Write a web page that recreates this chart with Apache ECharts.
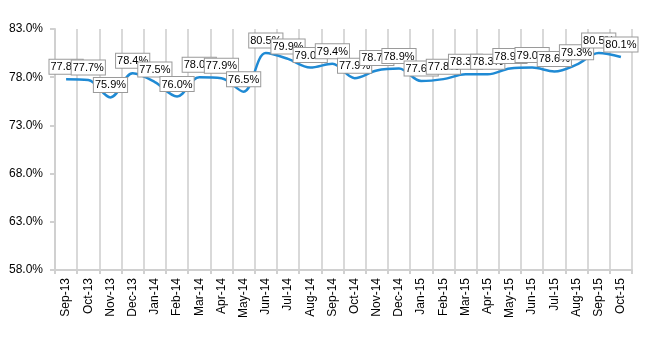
<!DOCTYPE html>
<html><head><meta charset="utf-8">
<script src="https://cdn.jsdelivr.net/npm/echarts@6/dist/echarts.min.js"></script>
<style>html,body{margin:0;padding:0;background:#fff}#c{width:650px;height:350px}</style>
</head><body><div id="c"></div>
<script>
var categories = ["Sep-13","Oct-13","Nov-13","Dec-13","Jan-14","Feb-14","Mar-14","Apr-14","May-14","Jun-14","Jul-14","Aug-14","Sep-14","Oct-14","Nov-14","Dec-14","Jan-15","Feb-15","Mar-15","Apr-15","May-15","Jun-15","Jul-15","Aug-15","Sep-15","Oct-15"];
var values = [77.8,77.7,75.9,78.4,77.5,76.0,78.0,77.9,76.5,80.5,79.9,79.0,79.4,77.9,78.7,78.9,77.6,77.8,78.3,78.3,78.9,79.0,78.6,79.3,80.5,80.1];
var yMin = 58, yMax = 83, yStep = 5;

var chart = echarts.init(document.getElementById('c'));
chart.setOption({
  animation: false,
  grid: {left: 55, right: 18, top: 29, bottom: 80},
  xAxis: {
    type: 'category', data: categories, boundaryGap: true,
    axisLine: {lineStyle: {color: '#d0d0d0', width: 2}},
    axisTick: {show: true, length: 4, lineStyle: {color: '#d0d0d0', width: 2}},
    splitLine: {show: true, lineStyle: {color: '#d9d9d9', width: 2}},
    axisLabel: {rotate: 90, interval: 0, margin: 8, color: '#000', fontSize: 12, fontFamily: 'Liberation Sans'}
  },
  yAxis: {
    type: 'value', min: yMin, max: yMax, interval: yStep,
    axisLine: {show: true, lineStyle: {color: '#d0d0d0', width: 2}},
    axisTick: {show: true, length: 5, lineStyle: {color: '#d0d0d0', width: 2}},
    splitLine: {show: false},
    axisLabel: {color: '#000', fontSize: 12, fontFamily: 'Liberation Sans', margin: 12,
      formatter: function(v){ return v.toFixed(1) + '%'; }}
  },
  series: [{
    type: 'line', data: values, smooth: 0.35, symbol: 'circle', symbolSize: 1, showSymbol: true,
    itemStyle: {color: 'rgba(0,0,0,0)'},
    lineStyle: {color: '#1f8ad4', width: 2.5},
    labelLayout: {hideOverlap: false},
    label: {
      show: true, position: 'top', distance: 5,
      formatter: function(p){ return p.value.toFixed(1) + '%'; },
      color: '#000', fontSize: 11, fontFamily: 'Liberation Sans',
      backgroundColor: '#fff', borderColor: '#9a9a9a', borderWidth: 1,
      padding: [2, 1, 1, 1]
    }
  }]
});
</script></body></html>
